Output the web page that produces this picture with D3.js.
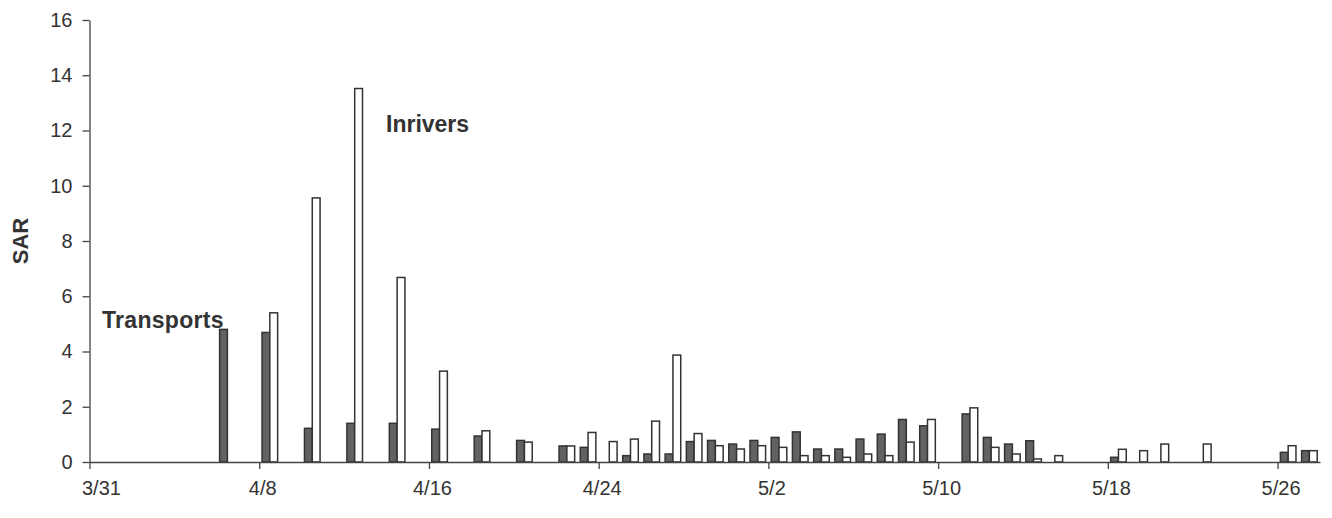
<!DOCTYPE html>
<html>
<head>
<meta charset="utf-8">
<script src="https://cdn.jsdelivr.net/npm/d3@7/dist/d3.min.js"></script>
<style>
  html, body { margin: 0; padding: 0; background: #fff; }
  svg { display: block; }
  text { font-family: "Liberation Sans", Arial, Helvetica, sans-serif; }
</style>
</head>
<body>
<svg id="chart" width="1332" height="518"></svg>
<script>
// ---- data ----
const dates = ["4/6","4/8","4/10","4/12","4/14","4/16","4/18","4/20","4/22","4/23","4/24","4/25","4/26","4/27","4/28","4/29","4/30","5/1","5/2","5/3","5/4","5/5","5/6","5/7","5/8","5/9","5/11","5/12","5/13","5/14","5/15","5/18","5/19","5/20","5/22","5/26","5/27"];
const transports = [4.80,4.69,1.22,1.40,1.40,1.19,0.94,0.78,0.58,0.53,null,0.23,0.29,0.29,0.74,0.78,0.65,0.78,0.89,1.09,0.47,0.47,0.83,1.01,1.54,1.31,1.74,0.89,0.65,0.77,null,0.17,null,null,null,0.35,0.41];
const inrivers = [null,5.40,9.56,13.52,6.68,3.29,1.13,0.72,0.58,1.07,0.74,0.83,1.48,3.87,1.03,0.59,0.47,0.59,0.53,0.23,0.23,0.17,0.29,0.23,0.72,1.54,1.96,0.53,0.29,0.11,0.23,0.46,0.41,0.65,0.65,0.59,0.41];
const xTickLabels = ["3/31","4/8","4/16","4/24","5/2","5/10","5/18","5/26"];
const yTicks = [0,2,4,6,8,10,12,14,16];
const seriesNames = ["Transports","Inrivers"];

const YEAR = 2001;
const parse = s => { const [m, d] = s.split("/").map(Number); return new Date(Date.UTC(YEAR, m - 1, d)); };
const DAY = 86400000;

const svg = d3.select("#chart");
const x = d3.scaleUtc().domain([parse("3/31"), parse("5/28")]).range([89.5, 1320]);
const y = d3.scaleLinear().domain([0, 16]).range([462, 20]);

const barW = 7.8;
const ink = "#333";

// bars
const rows = dates.map((d, i) => ({ date: parse(d), t: transports[i], r: inrivers[i] }));
const center = d => x(new Date(d.date.getTime() + DAY / 2));

svg.append("g").selectAll("rect.t")
  .data(rows.filter(d => d.t != null))
  .join("rect")
  .attr("x", d => center(d) - barW)
  .attr("y", d => y(d.t))
  .attr("width", barW)
  .attr("height", d => y(0) - y(d.t))
  .attr("fill", "#626262")
  .attr("stroke", ink)
  .attr("stroke-width", 1.5);

svg.append("g").selectAll("rect.r")
  .data(rows.filter(d => d.r != null))
  .join("rect")
  .attr("x", d => center(d))
  .attr("y", d => y(d.r))
  .attr("width", barW)
  .attr("height", d => y(0) - y(d.r))
  .attr("fill", "#fff")
  .attr("stroke", ink)
  .attr("stroke-width", 1.5);

// axes
const xAxis = d3.axisBottom(x)
  .tickValues(xTickLabels.map(parse))
  .tickFormat((d, i) => xTickLabels[i])
  .tickSize(7).tickSizeOuter(0).tickPadding(12);
const gx = svg.append("g").attr("transform", `translate(0,${y(0)})`).call(xAxis);
gx.select(".domain").attr("stroke", "#444").attr("stroke-width", 1.3);
gx.selectAll(".tick line").attr("stroke", "#444").attr("stroke-width", 1.3);
gx.selectAll(".tick text").attr("font-size", 20).attr("fill", "#333").attr("dx", 3);
gx.selectAll(".tick text").filter((d, i) => i === 0).attr("text-anchor", "start").attr("dx", -8);

const yAxis = d3.axisLeft(y).tickValues(yTicks).tickSize(7).tickSizeOuter(0).tickPadding(10);
const gy = svg.append("g").attr("transform", `translate(${x(parse("3/31"))},0)`).call(yAxis);
gy.select(".domain").attr("stroke", "#444").attr("stroke-width", 1.3);
gy.selectAll(".tick line").attr("stroke", "#444").attr("stroke-width", 1.3);
gy.selectAll(".tick text").attr("font-size", 20).attr("fill", "#333");

// y title
svg.append("text")
  .attr("transform", `translate(28,${(y(0) + y(16)) / 2}) rotate(-90)`)
  .attr("text-anchor", "middle")
  .attr("font-size", 22).attr("font-weight", "bold").attr("fill", "#333")
  .text("SAR");

// series labels
svg.append("text").attr("x", 102).attr("y", 328)
  .attr("font-size", 23).attr("font-weight", "bold").attr("fill", "#333")
  .attr("letter-spacing", "0.3")
  .text(seriesNames[0]);
svg.append("text").attr("x", 386).attr("y", 132)
  .attr("font-size", 23).attr("font-weight", "bold").attr("fill", "#333")
  .text(seriesNames[1]);
</script>
</body>
</html>
